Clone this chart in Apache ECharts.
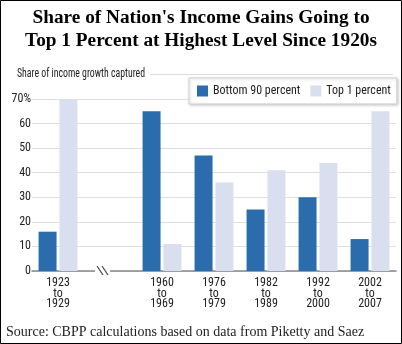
<!DOCTYPE html>
<html><head><meta charset="utf-8">
<script src="https://cdn.jsdelivr.net/npm/echarts@6/dist/echarts.min.js"></script>
<style>html,body{margin:0;padding:0;background:#fff}#c{width:402px;height:344px}</style>
</head><body><div id="c"></div>
<script>
const categories = ['1923\nto\n1929', '', '1960\nto\n1969', '1976\nto\n1979', '1982\nto\n1989', '1992\nto\n2000', '2002\nto\n2007'];
const bottom90 = [16, null, 65, 47, 25, 30, 13];
const top1 = [70, null, 11, 36, 41, 44, 65];
const yTicks = [0, 10, 20, 30, 40, 50, 60, 70];
const seriesNames = ['Bottom 90 percent', 'Top 1 percent'];
const titleLines = ["Share of Nation's Income Gains Going to", 'Top 1 Percent at Highest Level Since 1920s'];
const axisTitle = 'Share of income growth captured';
const sourceText = 'Source: CBPP calculations based on data from Piketty and Saez';

const ctx = document.createElement('canvas').getContext('2d');
function measure(font, txt) { ctx.font = font; return ctx.measureText(txt).width; }
function avail(f) {
  const s = 'abcdefghijklmnop 0123456789';
  return measure('40px monospace', s) !== measure('40px "' + f + '", monospace', s);
}
const cands = ['Liberation Sans Narrow', 'Roboto Condensed', 'Open Sans Condensed', 'DejaVu Sans Condensed', 'Liberation Sans'];
const nf = cands.find(avail) || 'sans-serif';
const NARROW = '"' + nf + '", sans-serif';
const SERIF = '"Liberation Serif", "DejaVu Serif", serif';
const titleScale = 128 / measure('13.5px ' + NARROW, axisTitle);
const legendW = 206 - 12 - 2 * 16 - 10;
const legendNatural = measure('12px ' + NARROW, seriesNames[0]) + measure('12px ' + NARROW, seriesNames[1]);
const LS = Math.max(10, Math.min(12, 12 * legendW / legendNatural));

const chart = echarts.init(document.getElementById('c'));
const option = {
  animation: false,
  backgroundColor: '#fff',
  grid: { left: 32, right: 6, top: 99, bottom: 73 },
  legend: {
    data: seriesNames, left: 189, top: 78, orient: 'horizontal',
    padding: [7, 6, 7, 8], itemWidth: 11, itemHeight: 11, itemGap: 10,
    backgroundColor: '#fff', borderColor: '#cfcfcf', borderWidth: 1,
    shadowBlur: 3, shadowColor: 'rgba(0,0,0,0.18)', shadowOffsetY: 1, shadowOffsetX: 1,
    textStyle: { fontFamily: NARROW, fontSize: LS, color: '#222' },
    icon: 'rect'
  },
  xAxis: {
    type: 'category', data: categories,
    axisLine: { lineStyle: { color: '#888', width: 1.5 } },
    axisTick: { show: false },
    axisLabel: { fontFamily: NARROW, fontSize: 12, lineHeight: 10.5, color: '#222', margin: 7, interval: 0 }
  },
  yAxis: {
    type: 'value', min: 0, max: 70, interval: 10,
    axisLine: { show: false }, axisTick: { show: false },
    splitLine: { lineStyle: { color: '#dedede', width: 1 } },
    axisLabel: {
      fontFamily: NARROW, fontSize: 12, color: '#222', margin: 1,
      formatter: v => yTicks.includes(v) ? (v === 70 ? v + '%' : String(v)) : ''
    }
  },
  series: [
    { name: seriesNames[0], type: 'bar', data: bottom90, barWidth: 18, barGap: '16%',
      itemStyle: { color: '#2b6cad' } },
    { name: seriesNames[1], type: 'bar', data: top1, barWidth: 18,
      itemStyle: { color: '#dadff0' } }
  ],
  graphic: [
    { type: 'rect', shape: { x: 0.5, y: 0.5, width: 401, height: 343 }, style: { fill: 'none', stroke: '#000', lineWidth: 1 }, z: 100 },
    { type: 'text', left: 'center', top: 7, style: { text: titleLines.join('\n'), font: 'bold 19.3px ' + SERIF, lineHeight: 23, fill: '#000', textAlign: 'center' } },
    { type: 'text', left: 6, top: 325, style: { text: sourceText, font: '14px ' + SERIF, fill: '#222' } },
    { type: 'text', x: 17, y: 67, scaleX: titleScale, style: { text: axisTitle, font: '13.5px ' + NARROW, fill: '#222' } },
    { type: 'line', shape: { x1: 150, y1: 74.5, x2: 393, y2: 74.5 }, style: { stroke: '#dcdcdc', lineWidth: 1 } }
  ]
};
chart.setOption(option);
const bx = chart.convertToPixel({ xAxisIndex: 0 }, 1) - 7;
const by = chart.convertToPixel({ yAxisIndex: 0 }, 0);
chart.setOption({ graphic: option.graphic.concat([
  { type: 'rect', shape: { x: bx - 8, y: by - 3, width: 15, height: 6 }, style: { fill: '#fff' }, z: 50 },
  { type: 'line', shape: { x1: bx - 6, y1: by - 5, x2: bx, y2: by + 4 }, style: { stroke: '#444', lineWidth: 1.2 }, z: 51 },
  { type: 'line', shape: { x1: bx - 1, y1: by - 5, x2: bx + 5, y2: by + 4 }, style: { stroke: '#444', lineWidth: 1.2 }, z: 51 }
]) });
</script></body></html>
